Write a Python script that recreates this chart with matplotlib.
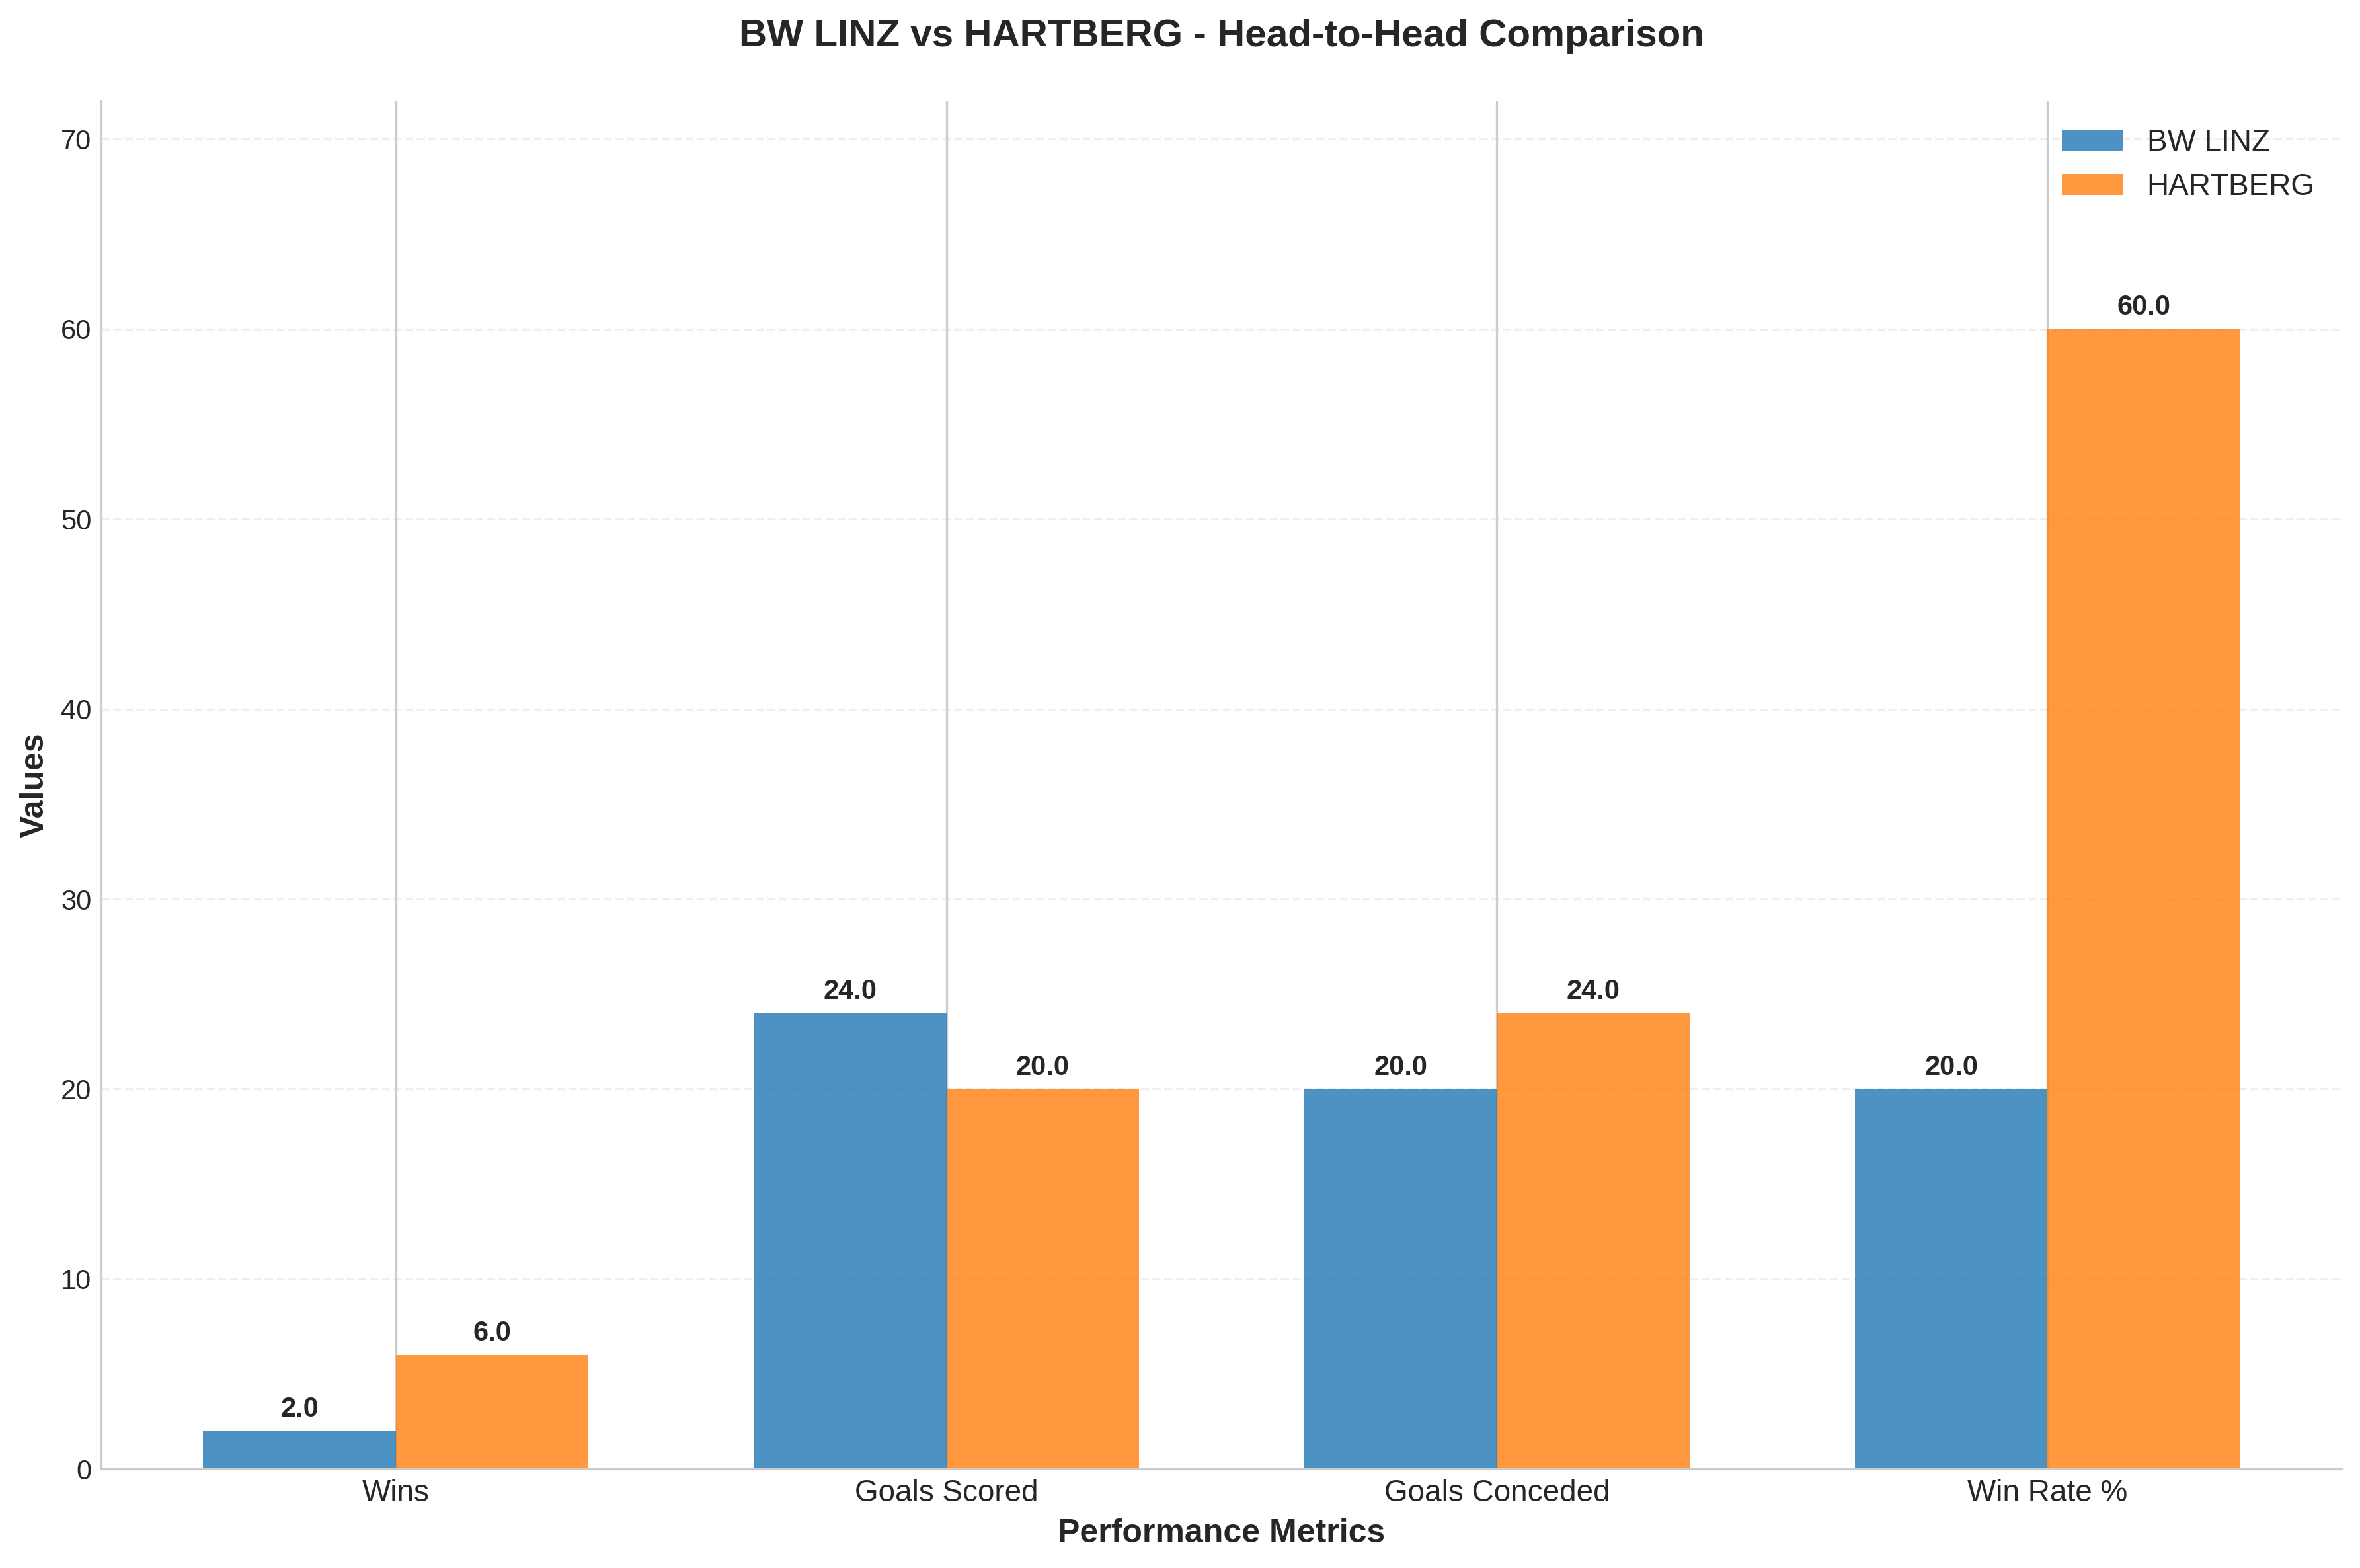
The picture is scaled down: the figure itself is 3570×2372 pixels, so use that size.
import numpy as np
import matplotlib
matplotlib.use("Agg")
import matplotlib.pyplot as plt
import seaborn as sns

# data
metrics = ["Wins", "Goals Scored", "Goals Conceded", "Win Rate %"]
bw_linz = [2.0, 24.0, 20.0, 20.0]
hartberg = [6.0, 20.0, 24.0, 60.0]

sns.set_style("whitegrid")
plt.rcParams['font.family'] = ['Liberation Sans', 'DejaVu Sans']

fig, ax = plt.subplots(figsize=(11.9, 7.907), dpi=300)

x = np.arange(len(metrics))
w = 0.35
b1 = ax.bar(x - w/2, bw_linz, w, label="BW LINZ", color="#1f77b4", alpha=0.8, linewidth=0)
b2 = ax.bar(x + w/2, hartberg, w, label="HARTBERG", color="#ff7f0e", alpha=0.8, linewidth=0)

for bars in (b1, b2):
    for b in bars:
        h = b.get_height()
        ax.annotate(f"{h:.1f}", xy=(b.get_x() + b.get_width()/2, h),
                    xytext=(0, 3), textcoords="offset points",
                    ha="center", va="bottom", fontsize=10, fontweight="bold")

ax.set_xticks(x)
ax.set_xticklabels(metrics, fontsize=11)
ax.tick_params(axis="y", labelsize=10)
ax.tick_params(length=0)
ax.set_xlabel("Performance Metrics", fontsize=12, fontweight="bold")
ax.set_ylabel("Values", fontsize=12, fontweight="bold")
ax.set_title("BW LINZ vs HARTBERG - Head-to-Head Comparison", fontsize=14,
             fontweight="bold", pad=20)
ax.set_ylim(0, max(max(bw_linz), max(hartberg)) * 1.2)
ax.yaxis.grid(True, linestyle="--", alpha=0.3)
ax.legend(fontsize=11, loc="upper right", frameon=False)
ax.spines["top"].set_visible(False)
ax.spines["right"].set_visible(False)

fig.subplots_adjust(left=0.0429, right=0.9924, top=0.9355, bottom=0.0632)
plt.savefig("out.png", dpi=300)
